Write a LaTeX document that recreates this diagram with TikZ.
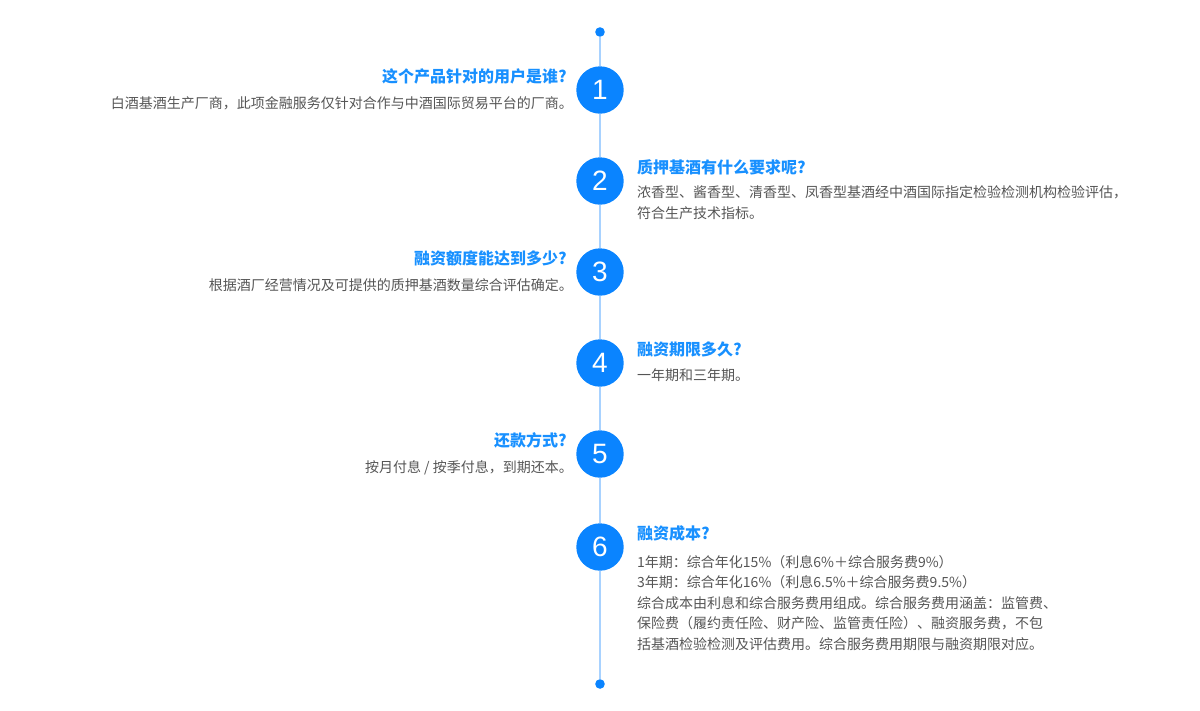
\documentclass[tikz,border=0pt]{standalone}
\usepackage{fontspec}
\usepackage{tikz}
\newfontfamily\cjk{Noto Sans CJK SC}
\newfontfamily\numfont{Liberation Sans}
\definecolor{qblue}{HTML}{0A84FF}
\definecolor{qtitle}{HTML}{1890FF}
\definecolor{qline}{HTML}{A8D2FF}
\definecolor{qgray}{HTML}{555555}

\begin{document}
\begin{tikzpicture}[x=1pt,y=-1pt,
  num/.style={circle, fill=qblue, text=white, minimum size=47.4pt, inner sep=0pt,
    font=\numfont\fontsize{28}{28}\selectfont},
  dot/.style={circle, fill=qblue, minimum size=9.6pt, inner sep=0pt},
  ttl/.style={text=qtitle, inner sep=0pt, font=\cjk\bfseries\fontsize{16}{18}\selectfont},
  txt/.style={text=qgray, inner sep=0pt, align=left, font=\cjk\fontsize{14}{20.4}\selectfont},
  axis/.style={qline, line width=2pt}]
\useasboundingbox (0,0) rectangle (1200,710);
% timeline
\node[dot] (dtop) at (600,32) {};
\node[dot] (dbot) at (600,684) {};
\node[num] (n1) at (600,90) {1};
\node[num] (n2) at (600,181) {2};
\node[num] (n3) at (600,272) {3};
\node[num] (n4) at (600,363) {4};
\node[num] (n5) at (600,454) {5};
\node[num] (n6) at (600,547) {6};
\foreach \a/\b in {dtop/n1,n1/n2,n2/n3,n3/n4,n4/n5,n5/n6,n6/dbot}
  \draw[axis] (\a) -- (\b);
% left side
\node[ttl, anchor=base east] (t1) at (567,82) {这个产品针对的用户是谁?};
\node[txt, anchor=base east] (b1) at (573,108) {白酒基酒生产厂商，此项金融服务仅针对合作与中酒国际贸易平台的厂商。};
\node[ttl, anchor=base east] (t3) at (567,264) {融资额度能达到多少?};
\node[txt, anchor=base east] (b3) at (573,290) {根据酒厂经营情况及可提供的质押基酒数量综合评估确定。};
\node[ttl, anchor=base east] (t5) at (567,446) {还款方式?};
\node[txt, anchor=base east] (b5) at (573,472) {按月付息 / 按季付息，到期还本。};
% right side (multi-line texts sit on their last line)
\node[ttl, anchor=base west] (t2) at (637,173) {质押基酒有什么要求呢?};
\node[txt, anchor=base west] (b2) at (637,218) {浓香型、酱香型、清香型、凤香型基酒经中酒国际指定检验检测机构检验评估，\\符合生产技术指标。};
\node[ttl, anchor=base west] (t4) at (637,355) {融资期限多久?};
\node[txt, anchor=base west] (b4) at (637,380) {一年期和三年期。};
\node[ttl, anchor=base west] (t6) at (637,539) {融资成本?};
\node[txt, anchor=base west] (b6) at (637,649) {1年期：综合年化15\%（利息6\%＋综合服务费9\%）\\
  3年期：综合年化16\%（利息6.5\%＋综合服务费9.5\%）\\
  综合成本由利息和综合服务费用组成。综合服务费用涵盖：监管费、\\
  保险费（履约责任险、财产险、监管责任险）、融资服务费，不包\\
  括基酒检验检测及评估费用。综合服务费用期限与融资期限对应。};
\end{tikzpicture}
\end{document}
